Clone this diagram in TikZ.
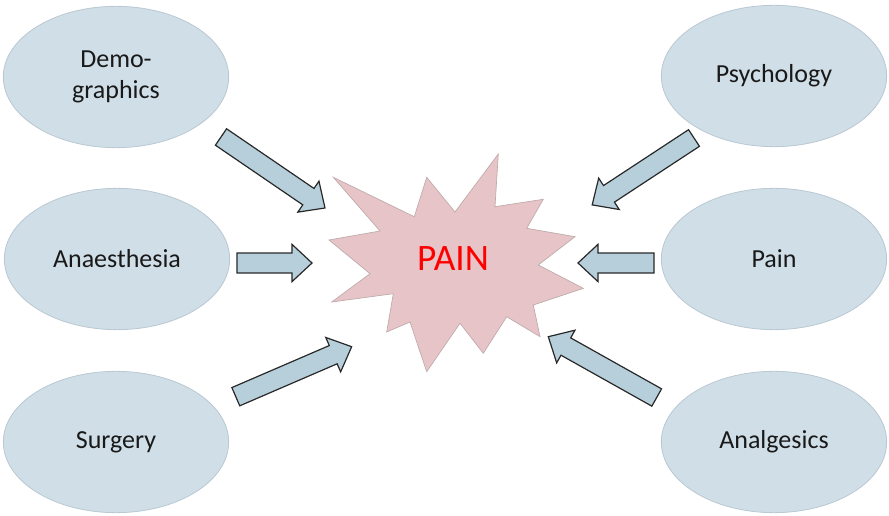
\documentclass[tikz,border=0pt]{standalone}
\usepackage{fontspec}
\setmainfont{Carlito}
\usetikzlibrary{shapes.geometric,shapes.arrows,calc}
\definecolor{ellfill}{RGB}{208,222,231}
\definecolor{elldraw}{RGB}{185,200,210}
\definecolor{arrfill}{RGB}{183,207,218}
\definecolor{arrdraw}{RGB}{40,40,40}
\definecolor{starfill}{RGB}{231,196,199}
\definecolor{stardraw}{RGB}{190,170,170}
\tikzset{
  factor/.style={ellipse, draw=elldraw, fill=ellfill, line width=0.6pt,
    minimum width=169pt, minimum height=106pt, inner sep=0pt,
    align=center, font=\fontsize{19.5}{23.5}\selectfont, text=black!90},
  blockarrow/.style={single arrow, draw=arrdraw, fill=arrfill, line width=0.9pt,
    inner xsep=0pt, inner ysep=7pt, outer sep=0pt,
    single arrow head extend=6.6pt, single arrow tip angle=86},
  painstar/.style={fill=starfill, draw=stardraw, line width=0.5pt},
}
\newcommand{\blockarr}[3]{%
  \path let \p1=($(#2)-(#1)$), \n1={atan2(\y1,\x1)}, \n2={veclen(\x1,\y1)} in
    node[blockarrow, minimum height=\n2, rotate=\n1, anchor=tail] (#3) at (#1) {};}
\begin{document}
\begin{tikzpicture}[x=0.75pt,y=-0.75pt]
\useasboundingbox (0,0) rectangle (889,516);
% star
\draw[painstar] (333.3,177.3) -- (414.3,216.7) -- (426.7,177.3) -- (455,212)
  -- (498.3,154) -- (495,206.7) -- (543.3,199.3) -- (526.7,228.3)
  -- (575,236.7) -- (538.3,265) -- (583.3,288.3) -- (533.3,305)
  -- (540,336.7) -- (506.7,316.7) -- (483.3,353.3) -- (460,323.3)
  -- (426.7,371.7) -- (410,322) -- (386.7,332) -- (393.3,293.7)
  -- (331.7,302) -- (370,273.7) -- (329,240) -- (380,231) -- cycle;
\node[text=red, font=\fontsize{28}{30}\selectfont] (pain) at (453,259) {PAIN};
% ellipses
\node[factor] (demo) at (116,77) {Demo-\\graphics};
\node[factor] (anae) at (117,259) {Anaesthesia};
\node[factor] (surg) at (116,442) {Surgery};
\node[factor] (psych) at (774,76) {Psychology};
\node[factor] (painf) at (774,259) {Pain};
\node[factor] (anal) at (774,442) {Analgesics};
% arrow end points
\coordinate (t1) at (221,137); \coordinate (h1) at (325,208);
\coordinate (t2) at (237,263); \coordinate (h2) at (312,263);
\coordinate (t3) at (235.8,396.7); \coordinate (h3) at (351.7,346.7);
\coordinate (t4) at (694,138); \coordinate (h4) at (592,205);
\coordinate (t5) at (654,263); \coordinate (h5) at (578,263);
\coordinate (t6) at (656.7,397.5); \coordinate (h6) at (548.3,336.7);
\blockarr{t1}{h1}{a1}
\blockarr{t2}{h2}{a2}
\blockarr{t3}{h3}{a3}
\blockarr{t4}{h4}{a4}
\blockarr{t5}{h5}{a5}
\blockarr{t6}{h6}{a6}
\end{tikzpicture}
\end{document}
